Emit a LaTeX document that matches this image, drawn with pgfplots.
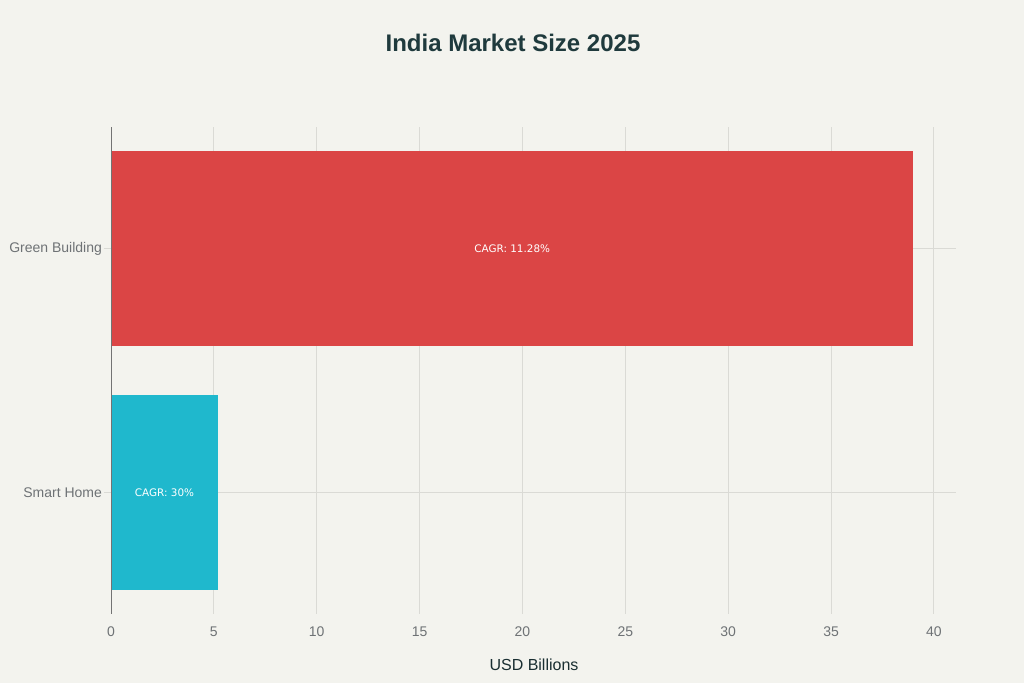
\documentclass[border=0pt]{standalone}
\usepackage{pgfplots}
\pgfplotsset{compat=1.18}
\usepackage{fontspec}
\setmainfont{Liberation Sans}
\newfontfamily\labelfont{DejaVu Sans}
\definecolor{bg}{HTML}{F3F3EE}
\definecolor{barred}{HTML}{DB4545}
\definecolor{barteal}{HTML}{1FB8CD}
\definecolor{titlecol}{HTML}{1F3A3D}
\definecolor{tickcol}{HTML}{6E7275}
\definecolor{gridcol}{HTML}{DADAD5}
\begin{document}
\begin{tikzpicture}[x=0.5pt,y=0.5pt]
\fill[bg] (0,0) rectangle (1024,683);
\useasboundingbox (0,0) rectangle (1024,683);
\node[font=\fontsize{12}{14}\selectfont\bfseries, text=titlecol] at (513,640) {India Market Size 2025};
\node[font=\fontsize{8}{10}\selectfont, text=titlecol!80!black] at (534,18) {USD Billions};
\begin{axis}[
    at={(55.5pt,34.5pt)}, anchor=south west,
    scale only axis, width=422.5pt, height=243.5pt,
    xmin=0, xmax=41.07, ymin=-0.5, ymax=1.5,
    xbar, bar width=97.5pt, bar shift=0pt,
    axis line style={draw=none},
    axis x line*=bottom, axis y line*=left,
    xtick={0,5,...,40}, ytick={0,1},
    yticklabels={Smart Home, Green Building},
    grid=major, major grid style={gridcol, line width=0.5pt},
    tick style={gridcol}, xtick style={draw=none},
    ytick style={gridcol, line width=0.5pt}, major tick length=3.5pt,
    tick label style={font=\fontsize{7}{9}\selectfont, text=tickcol},
    xticklabel style={yshift=-3pt},
    yticklabel style={xshift=2.5pt},
    /pgf/number format/assume math mode=true,
    clip=false,
]
\addplot[fill=barteal, draw=none] coordinates {(5.2,0)};
\addplot[fill=barred, draw=none] coordinates {(39,1)};
\draw[black!55, line width=0.5pt] (axis cs:0,-0.5) -- (axis cs:0,1.5);
\node[font=\labelfont\fontsize{5.2}{6}\selectfont, text=white] at (axis cs:2.6,0) {CAGR: 30\%};
\node[font=\labelfont\fontsize{5.2}{6}\selectfont, text=white] at (axis cs:19.5,1) {CAGR: 11.28\%};
\end{axis}
\end{tikzpicture}
\end{document}
